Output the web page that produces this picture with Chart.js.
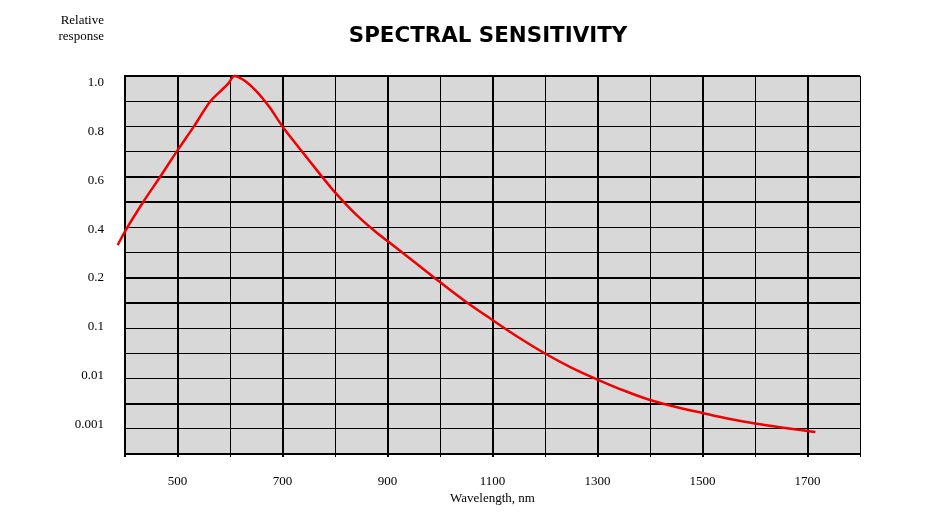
<!DOCTYPE html>
<html>
<head>
<meta charset="utf-8">
<script src="https://cdn.jsdelivr.net/npm/chart.js@4.4.1/dist/chart.umd.min.js"></script>
<style>
  body { margin: 0; background: #fff; }
  #wrap { position: relative; width: 937px; height: 516px; }
  #ylab {
    position: absolute; right: 833px; top: 12px;
    font: 13px "Liberation Serif", serif; line-height: 16px; text-align: right; color: #000;
  }
  #title {
    position: absolute; left: 288px; width: 400px; top: 24px; text-align: center;
    font: bold 21.4px "DejaVu Sans", sans-serif; line-height: 21.4px; color: #000;
  }
</style>
</head>
<body>
<div id="wrap">
  <canvas id="spectral"></canvas>
  <div id="ylab">Relative<br>response</div>
  <div id="title">SPECTRAL SENSITIVITY</div>
</div>
<script>
// wavelength (nm) and relative response
const wavelengths = [386, 400, 435, 467, 499, 531, 562, 581, 597, 608, 626, 650, 675, 700, 725, 750, 775, 800, 825, 850,
                     875, 900, 950, 1000, 1050, 1100, 1150, 1200, 1250, 1300, 1350, 1400, 1450, 1500, 1550, 1600, 1650, 1700, 1715];
const response = [0.329, 0.383, 0.501, 0.600, 0.702, 0.799, 0.898, 0.938, 0.971, 1.0, 0.984, 0.940, 0.877, 0.800, 0.732, 0.667, 0.601, 0.538, 0.482, 0.431,
                  0.386, 0.345, 0.264, 0.188, 0.143, 0.1116, 0.0648, 0.0312, 0.01645, 0.0095, 0.00575, 0.00373, 0.00271, 0.00206, 0.00158, 0.00127, 0.00106, 0.000904, 0.000864];

// y axis tick labels (the axis is stretched: linear down to 0.2, then log steps)
const yTickValues = [1.0, 0.8, 0.6, 0.4, 0.2, 0.1, 0.01, 0.001];
const yTickLabels = ['1.0', '0.8', '0.6', '0.4', '0.2', '0.1', '0.01', '0.001'];
const xTickLabels = [500, 700, 900, 1100, 1300, 1500, 1700];

// response -> position on the grid (2 grid rows per labelled step)
function toGrid(v) {
    let i = 0;
    while (i < yTickValues.length - 2 && v < yTickValues[i + 1]) i++;
    const a = yTickValues[i], b = yTickValues[i + 1];
    let f;
    if (b >= 0.2) f = (a - v) / (a - b);
    else f = Math.log(a / v) / Math.log(a / b);
    return (i + f) * 2;
}

const thickRows = [0, 4, 5, 8, 9, 13, 15];

new Chart(document.getElementById('spectral'), {
    type: 'line',
    data: {
        datasets: [{
            data: wavelengths.map((w, i) => ({ x: w, y: toGrid(response[i]) })),
            borderColor: '#f00000',
            borderWidth: 2.5,
            pointRadius: 0,
            cubicInterpolationMode: 'monotone',
            clip: false,
            yAxisID: 'y'
        }]
    },
    plugins: [{
        id: 'plotBg',
        beforeDraw(chart) {
            const a = chart.chartArea, c = chart.ctx;
            c.save();
            c.fillStyle = '#d8d8d8';
            c.fillRect(a.left, a.top, a.right - a.left, a.bottom - a.top);
            c.restore();
        }
    }],
    options: {
        responsive: true,
        maintainAspectRatio: false,
        animation: false,
        layout: { padding: { top: 76, right: 77 } },
        scales: {
            x: {
                type: 'linear',
                min: 400,
                max: 1800,
                afterBuildTicks: s => { s.ticks = []; for (let v = 400; v <= 1800; v += 100) s.ticks.push({ value: v }); },
                afterFit: s => { s.height = 62; },
                grid: {
                    color: '#000',
                    lineWidth: ctx => (ctx.tick && (ctx.tick.value % 200 === 100 || ctx.tick.value === 400)) ? 2 : 1,
                    tickLength: 3
                },
                border: { color: '#000', width: 2 },
                ticks: {
                    color: '#000',
                    padding: 17,
                    maxRotation: 0,
                    autoSkip: false,
                    font: { family: 'Liberation Serif', size: 13 },
                    callback: v => xTickLabels.includes(v) ? String(v) : ''
                },
                title: {
                    display: true,
                    text: 'Wavelength, nm',
                    color: '#000',
                    font: { family: 'Liberation Serif', size: 13 },
                    padding: { top: 0, bottom: 10 }
                }
            },
            y: {
                type: 'linear',
                position: 'left',
                min: 0,
                max: 15,
                reverse: true,
                afterBuildTicks: s => { s.ticks = []; for (let g = 0; g <= 15; g++) s.ticks.push({ value: g }); },
                afterFit: s => { s.width = 0; },
                grid: {
                    color: '#000',
                    lineWidth: ctx => (ctx.tick && thickRows.includes(ctx.tick.value)) ? 2 : 1,
                    drawTicks: false
                },
                border: { color: '#000', width: 2 },
                ticks: { display: false }
            },
            yl: {
                type: 'linear',
                position: 'left',
                min: -0.1436,
                max: 7.609,
                reverse: true,
                afterBuildTicks: s => { s.ticks = yTickLabels.map((_, i) => ({ value: i })); },
                afterFit: s => { s.width = 125; },
                grid: { display: false },
                border: { display: false },
                ticks: {
                    color: '#000',
                    padding: 13,
                    font: { family: 'Liberation Serif', size: 13 },
                    callback: v => yTickLabels[v] || ''
                }
            }
        },
        plugins: {
            legend: { display: false },
            tooltip: { enabled: false },
            title: { display: false }
        }
    }
});
</script>
</body>
</html>
